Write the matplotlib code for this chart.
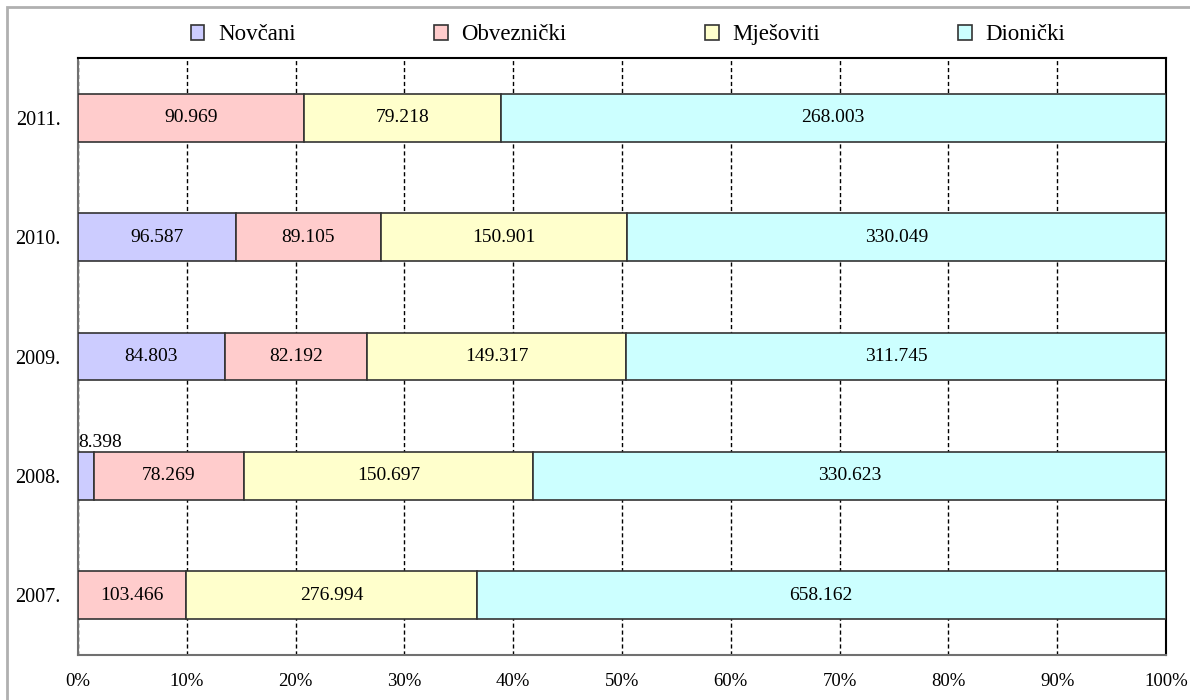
import numpy as np
import matplotlib.pyplot as plt
from matplotlib.patches import Rectangle

plt.rcParams["font.family"] = ["Liberation Serif", "DejaVu Serif"]

years = ["2007.", "2008.", "2009.", "2010.", "2011."]
series = ["Novčani", "Obveznički", "Mješoviti", "Dionički"]
novcani = [0, 8.398, 84.803, 96.587, 0]
obveznicki = [103.466, 78.269, 82.192, 89.105, 90.969]
mjesoviti = [276.994, 150.697, 149.317, 150.901, 79.218]
dionicki = [658.162, 330.623, 311.745, 330.049, 268.003]
colors = ["#CCCCFF", "#FFCCCC", "#FFFFCC", "#CCFFFF"]

values = np.array([novcani, obveznicki, mjesoviti, dionicki])
shares = values / values.sum(axis=0) * 100

fig = plt.figure(figsize=(11.9, 7), dpi=100)
ax = fig.add_axes([78 / 1190, 1 - 655 / 700, (1166 - 78) / 1190, (655 - 58) / 700])

# outer frame, open at right/bottom like the original export
fig.patches.append(Rectangle((7 / 1190, -0.01), 1.02, 1 - 7 / 700 + 0.01,
                             transform=fig.transFigure, fill=False,
                             edgecolor="#b0b0b0", lw=2))

y = np.arange(len(years))
left = np.zeros(len(years))
for i, name in enumerate(series):
    w = shares[i]
    mask = values[i] > 0
    ax.barh(y[mask], w[mask], left=left[mask], height=0.4, color=colors[i],
            edgecolor="#333333", lw=1.2, label=name, zorder=3)
    for j in range(len(years)):
        if values[i][j] <= 0:
            continue
        txt = f"{values[i][j]:.3f}"
        if w[j] < 5:
            ax.text(left[j], y[j] + 0.21, txt, ha="left", va="bottom",
                    fontsize=14, zorder=4)
        else:
            ax.text(left[j] + w[j] / 2, y[j], txt, ha="center", va="center",
                    fontsize=14, zorder=4)
    left = left + w

ax.set_xlim(0, 100)
ax.set_ylim(-0.5, 4.5)
ax.set_xticks(np.arange(0, 101, 10))
ax.set_xticklabels([f"{t}%" for t in range(0, 101, 10)], fontsize=13.5)
ax.set_yticks(y)
ax.set_yticklabels(years, fontsize=14.5)
ax.tick_params(length=0, pad=12.5)
ax.tick_params(axis="x", pad=13)
ax.grid(axis="x", color="black", ls=(0, (3, 2)), lw=1, zorder=0)

for s in ["top", "right"]:
    ax.spines[s].set_color("black")
    ax.spines[s].set_linewidth(1.5)
for s in ["left", "bottom"]:
    ax.spines[s].set_color("#707070")
    ax.spines[s].set_linewidth(1.5)

ax.legend(loc="lower left", bbox_to_anchor=(100 / 1088, 1.0, 900 / 1088, 0.1),
          mode="expand", ncol=4, frameon=False, fontsize=16.5,
          handlelength=0.6, handleheight=0.6, handletextpad=0.6,
          borderaxespad=0.15)

fig.savefig("out.png", dpi=100)
